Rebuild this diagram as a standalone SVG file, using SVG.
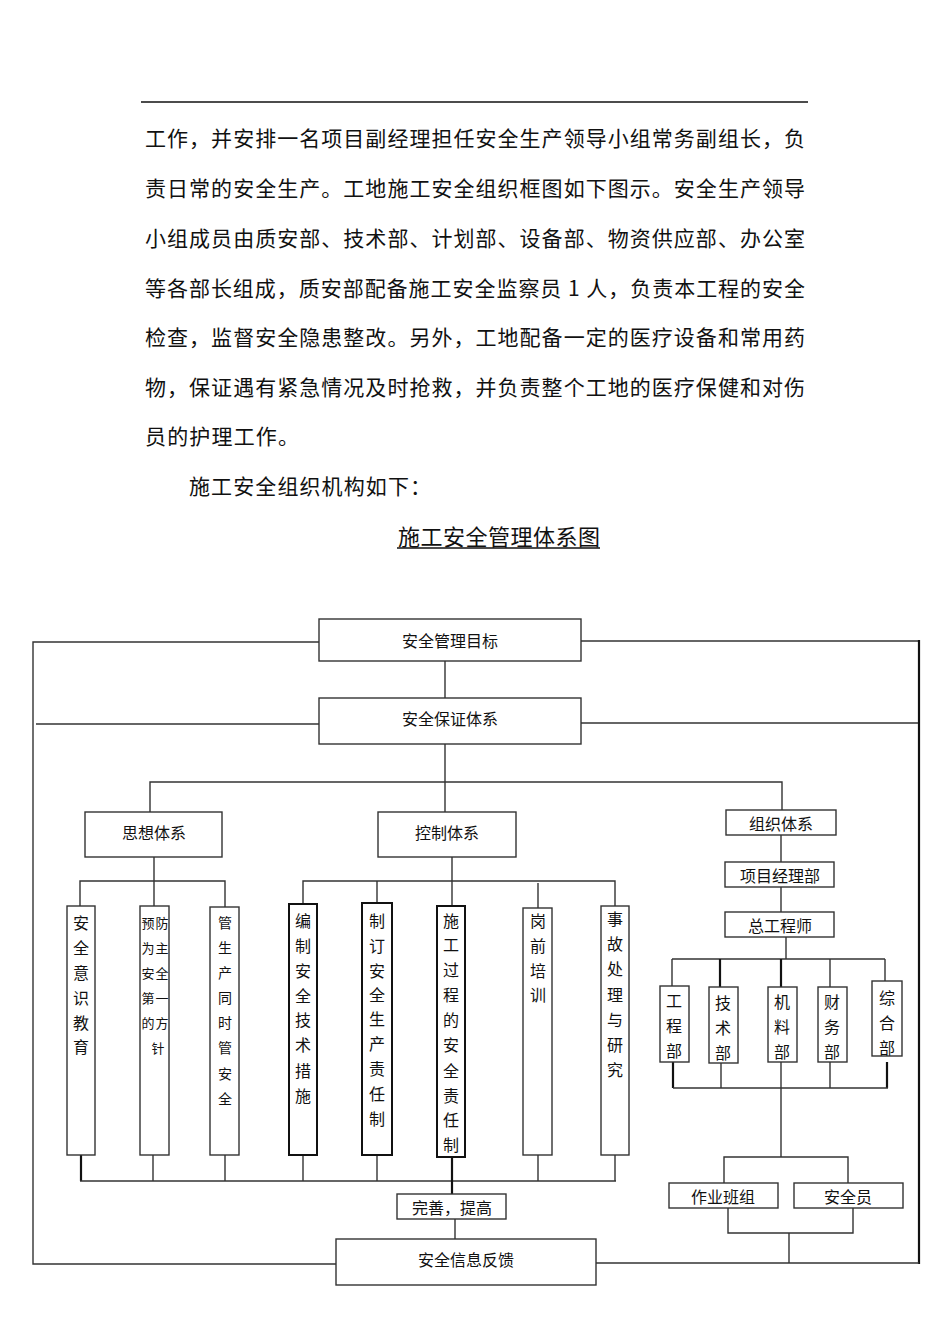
<svg xmlns="http://www.w3.org/2000/svg" width="950" height="1344" viewBox="0 0 950 1344">
<style>
text{font-family:"Noto Sans CJK SC","Noto Sans CJK JP",sans-serif;fill:#111;dominant-baseline:central}
.p{font-size:21px}
.t{font-size:22px}
.l{font-size:16px;text-anchor:middle}
.v{font-size:16px;text-anchor:middle}
.vs{font-size:14px;text-anchor:middle}
.vxs{font-size:13px;text-anchor:middle}
.box{fill:#fff;stroke:#333;stroke-width:1.4}
.bx{fill:#fff;stroke:#111;stroke-width:2}
.c{fill:none;stroke:#333;stroke-width:1.4}
.ck{fill:none;stroke:#111;stroke-width:2.2}
</style>
<rect width="950" height="1344" fill="#fff"/>
<g id="header">
<line x1="141" y1="102" x2="808" y2="102" stroke="#111" stroke-width="1.5"/>
<text class="p" x="145" y="137" textLength="660" lengthAdjust="spacing">工作，并安排一名项目副经理担任安全生产领导小组常务副组长，负</text>
<text class="p" x="145" y="187" textLength="660" lengthAdjust="spacing">责日常的安全生产。工地施工安全组织框图如下图示。安全生产领导</text>
<text class="p" x="145" y="237" textLength="660" lengthAdjust="spacing">小组成员由质安部、技术部、计划部、设备部、物资供应部、办公室</text>
<text class="p" x="145" y="287" textLength="660" lengthAdjust="spacing">等各部长组成，质安部配备施工安全监察员 1 人，负责本工程的安全</text>
<text class="p" x="145" y="336" textLength="660" lengthAdjust="spacing">检查，监督安全隐患整改。另外，工地配备一定的医疗设备和常用药</text>
<text class="p" x="145" y="386" textLength="660" lengthAdjust="spacing">物，保证遇有紧急情况及时抢救，并负责整个工地的医疗保健和对伤</text>
<text class="p" x="145" y="435" textLength="154" lengthAdjust="spacing">员的护理工作。</text>
<text class="p" x="189" y="485" textLength="242" lengthAdjust="spacing">施工安全组织机构如下：</text>
<text class="t" x="398" y="535" textLength="202" lengthAdjust="spacing">施工安全管理体系图</text>
<line x1="397" y1="548" x2="600" y2="548" stroke="#111" stroke-width="1.5"/>
</g>
<g id="connectors">
<polyline class="c" points="319,642 33,642 33,1264 336,1264"/>
<line class="c" x1="581" y1="641" x2="919" y2="641"/>
<line class="ck" x1="919" y1="640" x2="919" y2="1264"/>
<line class="c" x1="596" y1="1263" x2="919" y2="1263"/>
<line class="c" x1="36" y1="724" x2="319" y2="724"/>
<line class="c" x1="581" y1="723" x2="918" y2="723"/>
<line class="c" x1="445" y1="661" x2="445" y2="698"/>
<line class="c" x1="445" y1="744" x2="445" y2="812"/>
<polyline class="c" points="150,812 150,782 782,782 782,810"/>
<line class="c" x1="154" y1="857" x2="154" y2="906"/>
<polyline class="c" points="80,906 80,881 225,881 225,907"/>
<line class="c" x1="452" y1="857" x2="452" y2="906"/>
<polyline class="c" points="303,904 303,881 615,881 615,906"/>
<line class="c" x1="377" y1="881" x2="377" y2="903"/>
<line class="c" x1="538" y1="883" x2="538" y2="908"/>
<line class="ck" x1="81" y1="1155" x2="81" y2="1181"/>
<line class="c" x1="153" y1="1155" x2="153" y2="1181"/>
<line class="c" x1="225" y1="1155" x2="225" y2="1181"/>
<line class="c" x1="303" y1="1155" x2="303" y2="1181"/>
<line class="c" x1="377" y1="1155" x2="377" y2="1181"/>
<line class="c" x1="538" y1="1155" x2="538" y2="1181"/>
<line class="c" x1="615" y1="1155" x2="615" y2="1181"/>
<line class="c" x1="80" y1="1181" x2="616" y2="1181"/>
<line class="ck" x1="452" y1="1157" x2="452" y2="1194"/>
<line class="c" x1="455" y1="1219" x2="455" y2="1239"/>
<line class="c" x1="781" y1="835" x2="781" y2="862"/>
<line class="c" x1="781" y1="887" x2="781" y2="912"/>
<line class="c" x1="786" y1="937" x2="786" y2="959"/>
<line class="c" x1="672" y1="959" x2="885" y2="959"/>
<line class="c" x1="672" y1="959" x2="672" y2="986"/>
<line class="ck" x1="720" y1="959" x2="720" y2="987"/>
<line class="ck" x1="781" y1="959" x2="781" y2="987"/>
<line class="c" x1="830" y1="959" x2="830" y2="987"/>
<line class="c" x1="885" y1="959" x2="885" y2="981"/>
<line class="ck" x1="673" y1="1062" x2="673" y2="1088"/>
<line class="c" x1="721" y1="1063" x2="721" y2="1088"/>
<line class="c" x1="781" y1="1062" x2="781" y2="1157"/>
<line class="c" x1="830" y1="1062" x2="830" y2="1088"/>
<line class="ck" x1="887" y1="1062" x2="887" y2="1088"/>
<line class="c" x1="673" y1="1088" x2="888" y2="1088"/>
<polyline class="c" points="724,1183 724,1157 848,1157 848,1183"/>
<polyline class="c" points="728,1208 728,1233 853,1233 853,1208"/>
<line class="c" x1="789" y1="1233" x2="789" y2="1263"/>
</g>
<g id="n-goal"><rect class="box" x="319" y="619" width="262" height="42"/><text class="l" x="450" y="640">安全管理目标</text></g>
<g id="n-guarantee"><rect class="box" x="319" y="698" width="262" height="46"/><text class="l" x="450" y="718">安全保证体系</text></g>
<g id="n-thought"><rect class="box" x="85" y="812" width="137" height="45"/><text class="l" x="154" y="832">思想体系</text></g>
<g id="n-control"><rect class="box" x="378" y="812" width="138" height="45"/><text class="l" x="447" y="832">控制体系</text></g>
<g id="n-org"><rect class="box" x="726" y="810" width="110" height="25" stroke-width="2"/><text class="l" x="781" y="823">组织体系</text></g>
<g id="n-pm"><rect class="box" x="725" y="862" width="109" height="25"/><text class="l" x="780" y="875">项目经理部</text></g>
<g id="n-ce"><rect class="box" x="725" y="912" width="109" height="25"/><text class="l" x="780" y="925">总工程师</text></g>
<g id="v1"><rect class="box" x="67" y="906" width="28" height="249"/>
<text class="v"><tspan x="81" y="922">安</tspan><tspan x="81" y="947">全</tspan><tspan x="81" y="972">意</tspan><tspan x="81" y="997">识</tspan><tspan x="81" y="1022">教</tspan><tspan x="81" y="1046">育</tspan></text></g>
<g id="v2"><rect class="box" x="140" y="906" width="29" height="249"/>
<text class="vxs"><tspan x="148" y="922">预</tspan><tspan x="148" y="947">为</tspan><tspan x="148" y="972">安</tspan><tspan x="148" y="997">第</tspan><tspan x="148" y="1022">的</tspan><tspan x="162" y="922">防</tspan><tspan x="162" y="947">主</tspan><tspan x="162" y="972">全</tspan><tspan x="162" y="997">一</tspan><tspan x="162" y="1022">方</tspan><tspan x="158" y="1047">针</tspan></text></g>
<g id="v3"><rect class="box" x="210" y="907" width="29" height="248"/>
<text class="vs"><tspan x="225" y="922">管</tspan><tspan x="225" y="947">生</tspan><tspan x="225" y="972">产</tspan><tspan x="225" y="997">同</tspan><tspan x="225" y="1022">时</tspan><tspan x="225" y="1047">管</tspan><tspan x="225" y="1073">安</tspan><tspan x="225" y="1098">全</tspan></text></g>
<g id="v4"><rect class="bx" x="289" y="904" width="28" height="251"/>
<text class="v"><tspan x="303" y="920">编</tspan><tspan x="303" y="945">制</tspan><tspan x="303" y="970">安</tspan><tspan x="303" y="995">全</tspan><tspan x="303" y="1019">技</tspan><tspan x="303" y="1044">术</tspan><tspan x="303" y="1070">措</tspan><tspan x="303" y="1095">施</tspan></text></g>
<g id="v5"><rect class="bx" x="362" y="903" width="30" height="252"/>
<text class="v"><tspan x="377" y="920">制</tspan><tspan x="377" y="945">订</tspan><tspan x="377" y="970">安</tspan><tspan x="377" y="994">全</tspan><tspan x="377" y="1018">生</tspan><tspan x="377" y="1043">产</tspan><tspan x="377" y="1068">责</tspan><tspan x="377" y="1093">任</tspan><tspan x="377" y="1118">制</tspan></text></g>
<g id="v6"><rect class="bx" x="437" y="906" width="28" height="251"/>
<text class="v"><tspan x="451" y="920">施</tspan><tspan x="451" y="944">工</tspan><tspan x="451" y="969">过</tspan><tspan x="451" y="994">程</tspan><tspan x="451" y="1019">的</tspan><tspan x="451" y="1044">安</tspan><tspan x="451" y="1070">全</tspan><tspan x="451" y="1095">责</tspan><tspan x="451" y="1119">任</tspan><tspan x="451" y="1144">制</tspan></text></g>
<g id="v7"><rect class="box" x="523" y="908" width="29" height="247"/>
<text class="v"><tspan x="538" y="920">岗</tspan><tspan x="538" y="945">前</tspan><tspan x="538" y="970">培</tspan><tspan x="538" y="994">训</tspan></text></g>
<g id="v8"><rect class="box" x="601" y="906" width="28" height="249"/>
<text class="v"><tspan x="615" y="918">事</tspan><tspan x="615" y="943">故</tspan><tspan x="615" y="968">处</tspan><tspan x="615" y="994">理</tspan><tspan x="615" y="1019">与</tspan><tspan x="615" y="1044">研</tspan><tspan x="615" y="1069">究</tspan></text></g>
<g id="d1"><rect class="box" x="660" y="986" width="29" height="76" stroke-width="2"/>
<text class="v"><tspan x="674" y="1000">工</tspan><tspan x="674" y="1025">程</tspan><tspan x="674" y="1050">部</tspan></text></g>
<g id="d2"><rect class="box" x="709" y="987" width="29" height="76"/>
<text class="v"><tspan x="723" y="1002">技</tspan><tspan x="723" y="1027">术</tspan><tspan x="723" y="1052">部</tspan></text></g>
<g id="d3"><rect class="box" x="768" y="987" width="29" height="75"/>
<text class="v"><tspan x="782" y="1001">机</tspan><tspan x="782" y="1026">料</tspan><tspan x="782" y="1051">部</tspan></text></g>
<g id="d4"><rect class="box" x="818" y="987" width="29" height="75"/>
<text class="v"><tspan x="832" y="1001">财</tspan><tspan x="832" y="1026">务</tspan><tspan x="832" y="1051">部</tspan></text></g>
<g id="d5"><rect class="box" x="872" y="981" width="30" height="75"/>
<text class="v"><tspan x="887" y="997">综</tspan><tspan x="887" y="1022">合</tspan><tspan x="887" y="1047">部</tspan></text></g>
<g id="n-team"><rect class="box" x="669" y="1183" width="109" height="25" stroke-width="2"/><text class="l" x="723" y="1196">作业班组</text></g>
<g id="n-safety"><rect class="box" x="794" y="1183" width="109" height="25" stroke-width="2"/><text class="l" x="848" y="1196">安全员</text></g>
<g id="n-improve"><rect class="box" x="397" y="1194" width="109" height="25"/><text class="l" x="452" y="1207">完善，提高</text></g>
<g id="n-feedback"><rect class="box" x="336" y="1239" width="260" height="46"/><text class="l" x="466" y="1259">安全信息反馈</text></g>
</svg>
